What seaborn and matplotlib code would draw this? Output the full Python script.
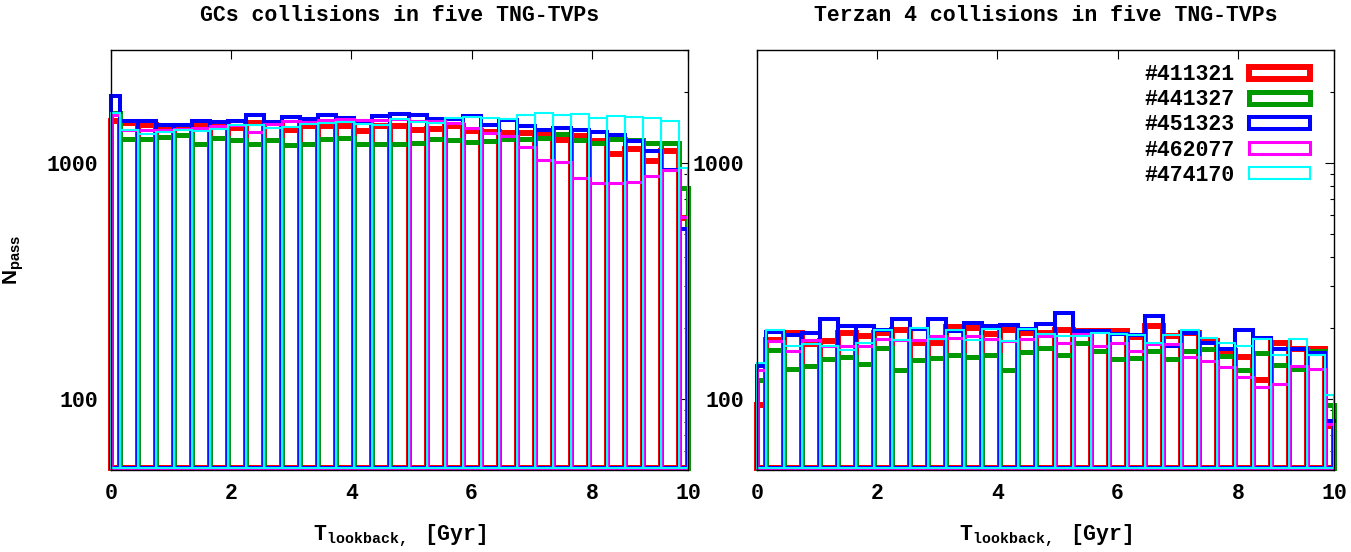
import numpy as np
import pandas as pd
import matplotlib
matplotlib.use("Agg")
import matplotlib.pyplot as plt
from matplotlib.patches import Patch
from matplotlib.ticker import LogLocator, NullFormatter, FixedLocator
import seaborn as sns

# Stil
sns.set_theme(style="white")
plt.rcParams["font.family"] = ["Liberation Mono", "DejaVu Sans"]
plt.rcParams["font.weight"] = "bold"
plt.rcParams["mathtext.fontset"] = "custom"
plt.rcParams["mathtext.rm"] = "Liberation Mono:bold"
plt.rcParams["mathtext.sf"] = "Liberation Sans:bold"
for key in ["text.color", "axes.labelcolor", "xtick.color", "ytick.color"]:
    plt.rcParams[key] = "black"

# Daten
halos = ["#411321", "#441327", "#451323", "#462077", "#474170"]
t_lookback = [0.0, 0.3, 0.6, 0.9, 1.2, 1.5, 1.8, 2.1, 2.4, 2.7, 3.0,
              3.3, 3.6, 3.9, 4.2, 4.5, 4.8, 5.1, 5.4, 5.7, 6.0, 6.3,
              6.6, 6.9, 7.2, 7.5, 7.8, 8.1, 8.4, 8.7, 9.0, 9.3, 9.6]

gcs_411321 = [1500, 1473, 1449, 1425, 1425, 1425, 1430, 1407, 1473, 1470, 1380,
              1425, 1425, 1425, 1366, 1425, 1435, 1380, 1390, 1425, 1360, 1350,
              1336, 1330, 1336, 1251, 1292, 1231, 1092, 1146, 1020, 1117, 583]
gcs_441327 = [1620, 1260, 1260, 1280, 1314, 1204, 1273, 1251, 1204, 1251, 1192,
              1204, 1260, 1273, 1204, 1204, 1204, 1210, 1260, 1243, 1224, 1240,
              1260, 1260, 1273, 1327, 1251, 1212, 1260, 1251, 1216, 1216, 781]
gcs_451323 = [1920, 1496, 1496, 1449, 1449, 1496, 1481, 1496, 1597, 1480, 1556,
              1531, 1597, 1545, 1496, 1582, 1613, 1587, 1536, 1531, 1570, 1438,
              1521, 1425, 1380, 1403, 1380, 1349, 1314, 1239, 1117, 934, 525]
gcs_462077 = [1590, 1370, 1380, 1380, 1390, 1403, 1425, 1450, 1344, 1460, 1500,
              1480, 1520, 1536, 1520, 1520, 1531, 1500, 1496, 1473, 1403, 1336,
              1301, 1165, 1030, 1007, 861, 820, 820, 825, 881, 934, 590]
gcs_474170 = [1620, 1380, 1327, 1349, 1380, 1360, 1389, 1449, 1440, 1403, 1420,
              1463, 1473, 1490, 1463, 1449, 1531, 1481, 1473, 1547, 1560, 1547,
              1531, 1597, 1623, 1590, 1609, 1547, 1582, 1565, 1547, 1496, 950]

ter_411321 = [94, 178, 190, 170, 175, 190, 184, 190, 195, 172, 173,
              201, 200, 188, 195, 190, 190, 196, 193, 193, 193, 183,
              203, 184, 190, 176, 159, 150, 120, 172, 163, 163, 77]
ter_441327 = [120, 161, 134, 138, 147, 151, 141, 165, 132, 146, 149,
              154, 151, 154, 133, 158, 164, 154, 173, 160, 147, 149,
              160, 147, 160, 163, 152, 132, 157, 139, 134, 160, 94]
ter_451323 = [138, 192, 187, 190, 218, 203, 203, 196, 218, 197, 218,
              193, 210, 203, 205, 198, 208, 231, 193, 193, 188, 187,
              224, 167, 190, 172, 163, 196, 181, 163, 163, 157, 81]
ter_462077 = [133, 176, 160, 178, 167, 167, 168, 179, 177, 178, 185,
              181, 184, 179, 176, 180, 184, 173, 188, 167, 173, 160,
              170, 170, 150, 144, 136, 124, 112, 116, 138, 134, 78]
ter_474170 = [142, 195, 167, 171, 167, 161, 173, 196, 177, 200, 180,
              196, 178, 197, 176, 197, 188, 184, 184, 190, 188, 187,
              173, 187, 196, 181, 173, 167, 180, 154, 180, 154, 104]

panels = [
    ("GCs collisions in five TNG-TVPs",
     [gcs_411321, gcs_441327, gcs_451323, gcs_462077, gcs_474170]),
    ("Terzan 4 collisions in five TNG-TVPs",
     [ter_411321, ter_441327, ter_451323, ter_462077, ter_474170]),
]

colors = ["#ff0000", "#009900", "#0000ff", "#ff00ff", "#00ffff"]
widths = [4.3, 3.6, 2.9, 2.2, 1.5]

# Bin-Kanten aus den Mittelpunkten
t = np.array(t_lookback)
edges = [float(e) for e in np.concatenate([[t[0]], (t[:-1] + t[1:]) / 2, [t[-1]]])]
y_floor = 51
fs = 15.5

fig, axes = plt.subplots(1, 2, figsize=(13.51, 5.52), dpi=100)
axes[0].set_position([111 / 1351, 82 / 552, 577 / 1351, 420 / 552])
axes[1].set_position([757 / 1351, 82 / 552, 577 / 1351, 420 / 552])

for ax, (title, series) in zip(axes, panels):
    for vals, c, lw in zip(series, colors, widths):
        df = pd.DataFrame({"t": t_lookback, "n": vals})
        n0 = len(ax.patches)
        sns.histplot(data=df, x="t", weights="n", bins=edges, element="bars",
                     fill=False, color=c, linewidth=lw, ax=ax)
        for p in ax.patches[n0:]:
            top = p.get_y() + p.get_height()
            p.set_y(y_floor)
            p.set_height(top - y_floor)
            p.set_edgecolor(c)
            p.set_facecolor("none")
            p.set_clip_on(False)

    ax.set_yscale("log")
    ax.set_ylim(50, 3000)
    ax.set_xlim(0, 9.6)
    ax.xaxis.set_major_locator(FixedLocator([0, 2, 4, 6, 8, 9.6]))
    ax.set_xticklabels(["0", "2", "4", "6", "8", "10"])
    ax.yaxis.set_major_locator(FixedLocator([100, 1000]))
    ax.set_yticklabels(["100", "1000"])
    ax.yaxis.set_minor_locator(LogLocator(base=10, subs=np.arange(2, 10)))
    ax.yaxis.set_minor_formatter(NullFormatter())
    ax.tick_params(which="both", direction="in", top=True, right=True,
                   color="black", labelcolor="black", width=0.8,
                   labelsize=fs, pad=9.5)
    ax.tick_params(which="major", length=6.5)
    ax.tick_params(which="minor", length=3.2)
    ax.tick_params(axis="x", which="minor", top=False, bottom=False)
    for s in ax.spines.values():
        s.set_color("black")
        s.set_linewidth(1.0)
    ax.set_title(title, fontsize=fs, fontweight="bold", pad=21, color="black")
    ax.set_xlabel(r"$\mathrm{T}_{\mathrm{lookback,}}$ [Gyr]", fontsize=fs,
                  fontweight="bold", labelpad=13, color="black")
    ax.set_ylabel("")

axes[0].set_ylabel(r"$\mathsf{N}_{\mathsf{pass}}$", fontsize=15, color="black")
axes[0].yaxis.set_label_coords(-0.148, 0.5)

handles = [Patch(facecolor="none", edgecolor=c, linewidth=lw)
           for c, lw in zip(colors, widths)]
axes[1].legend(handles, halos, loc="upper right", bbox_to_anchor=(0.958, 0.966),
               frameon=False, markerfirst=False, handlelength=2.8,
               handleheight=0.5, handletextpad=0.7, labelspacing=0.19,
               borderpad=0, borderaxespad=0, labelcolor="black",
               prop=dict(family="Liberation Mono", weight="bold", size=fs))

fig.savefig("out.png", dpi=100)
